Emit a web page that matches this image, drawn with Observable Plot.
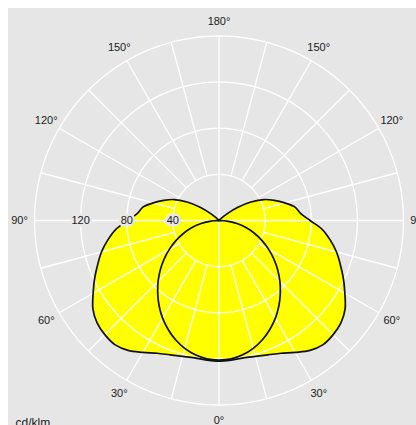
<!DOCTYPE html>
<html>
<head>
<meta charset="utf-8">
<script src="https://cdn.jsdelivr.net/npm/d3@7"></script>
<script src="https://cdn.jsdelivr.net/npm/@observablehq/plot@0.6"></script>
<style>
  html, body { margin: 0; padding: 0; background: #ffffff; overflow: hidden; }
  #chart { position: absolute; left: 8px; top: 8px; }
  #chart svg { display: block; }
</style>
</head>
<body>
<div id="chart"></div>
<script>
// Polar angles (degrees from nadir)
const angles = [0,5,10,15,20,25,30,35,40,45,50,55,60,65,70,75,80,85,90,95,100,105,110,115,120,125,130,135,140,145,150,155,160,165,170,175,180];
// C90-C270 plane (butterfly shape), cd/klm
const planeC90 = [122,121.5,121,122,124,127,132,137.5,140.5,140,138,133.5,126,119,112,105.5,98,90,79,71,67,59,51,43,32,20,9,2,0,0,0,0,0,0,0,0,0];
// C0-C180 plane (circle shape), cd/klm
const planeC0 = [121,120.5,118.3,114.8,110.1,104.3,97.8,90.5,82.7,74.7,66.4,58,49.6,41.2,32.9,24.6,16.4,8.2,0,0,0,0,0,0,0,0,0,0,0,0,0,0,0,0,0,0,0];
// Grid
const rings = [40, 80, 120, 160];
const ringLabels = [120, 80, 40];
const angleTicks = [0, 30, 60, 90, 120, 150, 180];
const unitLabel = "cd/klm";

const rad = d => d * Math.PI / 180;
const pt = (phi, r) => ({x: r * Math.sin(rad(phi)), y: -r * Math.cos(rad(phi))});

function closedCurve(vals) {
  const out = [];
  for (let i = angles.length - 1; i >= 0; i--) out.push(pt(-angles[i], vals[i]));
  for (let i = 1; i < angles.length; i++) out.push(pt(angles[i], vals[i]));
  return out;
}
const c90 = closedCurve(planeC90);
const c0 = closedCurve(planeC0);

const ringPts = rings.flatMap(r => d3.range(0, 361, 2).map(a => ({ring: r, ...pt(a, r)})));
const spokes = d3.range(-165, 181, 15).filter(a => a % 90 !== 0).map(a => {
  const p1 = pt(a, 40), p2 = pt(a, 160);
  return {x1: p1.x, y1: p1.y, x2: p2.x, y2: p2.y};
});
const axes = [
  {x1: 0, y1: -160, x2: 0, y2: 160},
  {x1: -160, y1: 0, x2: 160, y2: 0}
];
const tickLabels = angleTicks.flatMap(a => (a === 0 || a === 180) ? [{a, ...pt(a, 173)}] : [{a, ...pt(-a, 173)}, {a, ...pt(a, 173)}]);
const ringLabelPts = ringLabels.map(v => ({v, x: -v, y: 0}));

const cx = 210.5, cy = 212, R = 184.5;
const chart = Plot.plot({
  width: 408,
  height: 417,
  margin: 0,
  style: {background: "#e6e6e6", fontFamily: "'Liberation Sans', Arial, sans-serif"},
  x: {type: "linear", domain: [-160, 160], range: [cx - R, cx + R], axis: null},
  y: {type: "linear", domain: [-160, 160], range: [cy + R, cy - R], axis: null},
  marks: [
    Plot.line(c90, {x: "x", y: "y", fill: "#ffff00", stroke: "none", curve: "catmull-rom"}),
    Plot.line(c0, {x: "x", y: "y", fill: "#ffff00", stroke: "none", curve: "catmull-rom"}),
    Plot.line(ringPts, {x: "x", y: "y", z: "ring", stroke: "#ffffff", strokeWidth: 1.3}),
    Plot.link(spokes, {x1: "x1", y1: "y1", x2: "x2", y2: "y2", stroke: "#ffffff", strokeWidth: 1.3}),
    Plot.link(axes, {x1: "x1", y1: "y1", x2: "x2", y2: "y2", stroke: "#ffffff", strokeWidth: 1.3}),
    Plot.line(c90, {x: "x", y: "y", stroke: "#111111", strokeWidth: 1.7, curve: "catmull-rom"}),
    Plot.line(c0, {x: "x", y: "y", stroke: "#111111", strokeWidth: 1.7, curve: "catmull-rom"}),
    Plot.text(ringLabelPts, {x: "x", y: "y", text: d => String(d.v), fontSize: 11, fill: "#1a1a1a", stroke: "#e8e8e8", strokeWidth: 5}),
    Plot.text(tickLabels, {x: "x", y: "y", text: d => d.a + "°", fontSize: 11, fill: "#1a1a1a"}),
    Plot.text([unitLabel], {frameAnchor: "bottom-left", textAnchor: "start", lineAnchor: "top", dx: 7, dy: -7, fontSize: 12, fill: "#1a1a1a"})
  ]
});
document.getElementById("chart").appendChild(chart);
</script>
</body>
</html>
